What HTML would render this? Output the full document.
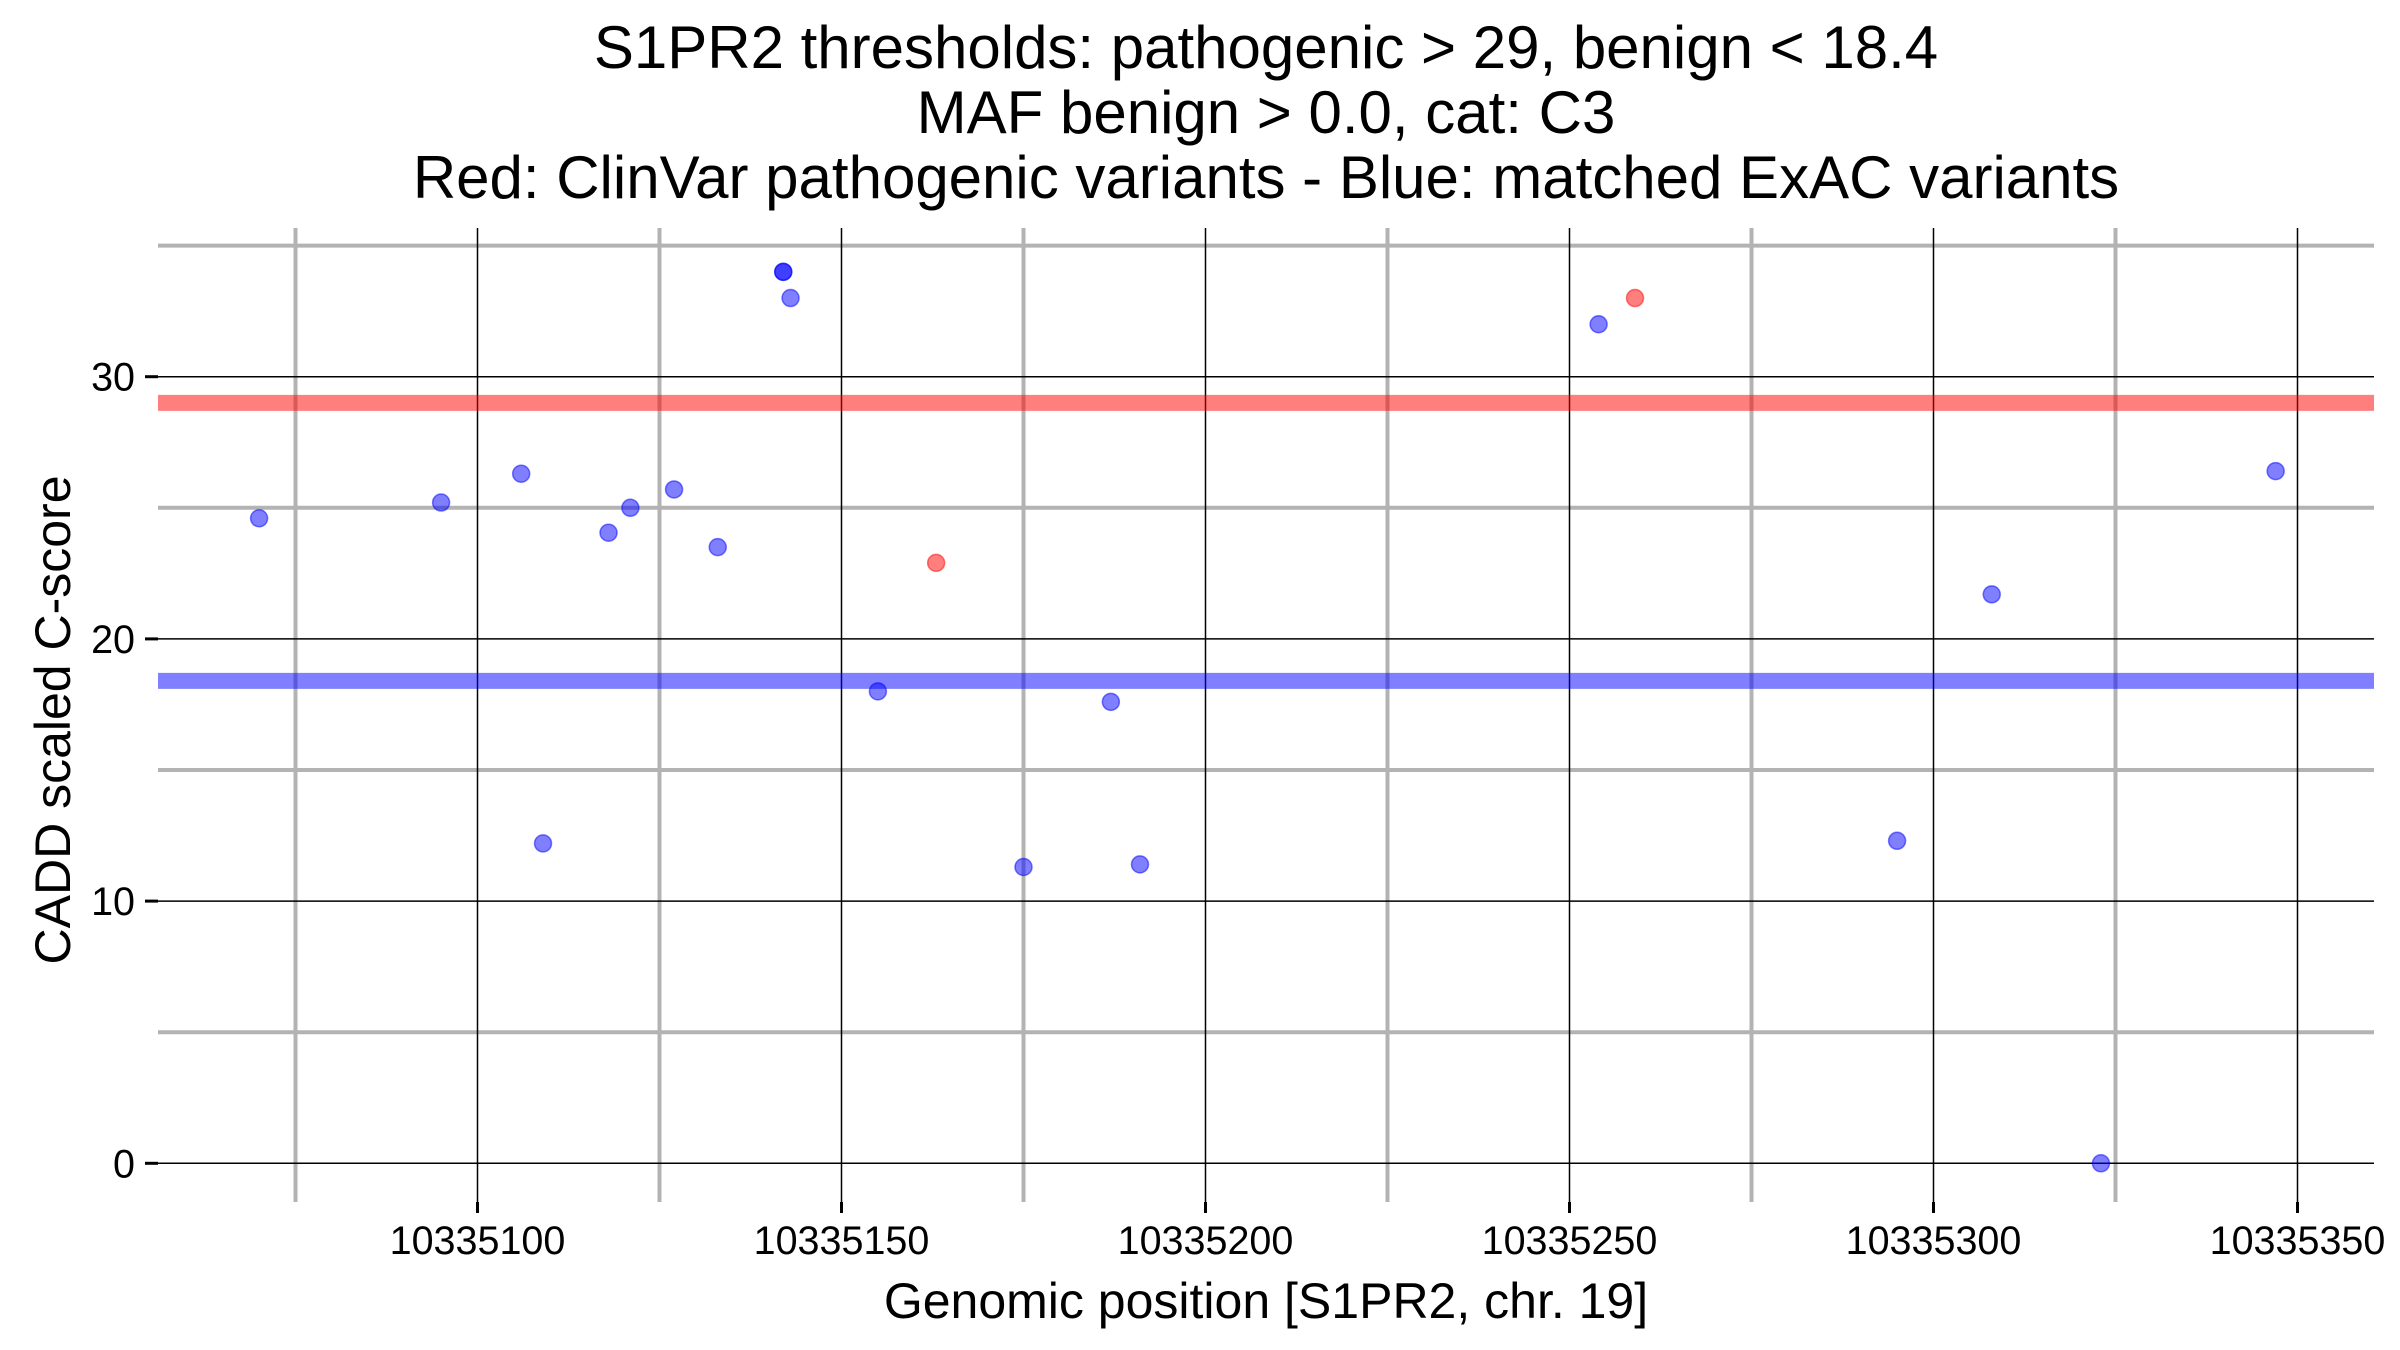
<!DOCTYPE html>
<html><head><meta charset="utf-8"><style>body{margin:0;background:#fff}svg{display:block}text{font-family:"Liberation Sans",Arial,sans-serif}</style></head>
<body>
<svg id="chart" width="2400" height="1350" viewBox="0 0 2400 1350" xmlns="http://www.w3.org/2000/svg">
<g text-anchor="middle" font-size="60" fill="#000">
<text x="1266" y="68">S1PR2 thresholds: pathogenic &gt; 29, benign &lt; 18.4</text>
<text x="1266" y="133">MAF benign &gt; 0.0, cat: C3</text>
<text x="1266" y="198">Red: ClinVar pathogenic variants - Blue: matched ExAC variants</text>
</g>
<g id="grid"></g>
<g id="thresholds"></g>
<g id="points"></g>
<g id="axes"></g>
<text x="1266" y="1318" text-anchor="middle" font-size="50">Genomic position [S1PR2, chr. 19]</text>
<text transform="translate(70,720) rotate(-90)" text-anchor="middle" font-size="50">CADD scaled C-score</text>
</svg>
<script>
const xMajorTicks = [10335100, 10335150, 10335200, 10335250, 10335300, 10335350];
const xMinorTicks = [10335075, 10335125, 10335175, 10335225, 10335275, 10335325];
const yMajorTicks = [0, 10, 20, 30];
const yMinorTicks = [5, 15, 25, 35];
const benignPos = [10335070,10335095,10335106,10335109,10335118,10335121,10335127,10335133,10335142,10335142,10335143,10335155,10335175,10335187,10335191,10335254,10335295,10335308,10335323,10335347];
const benignScore = [24.6,25.2,26.3,12.2,24.05,25.0,25.7,23.5,34,34,33,18.0,11.3,17.6,11.4,32,12.3,21.7,0,26.4];
const pathoPos = [10335163,10335259];
const pathoScore = [22.9,33];
const thresholdPatho = 29;
const thresholdBenign = 18.4;

const NS='http://www.w3.org/2000/svg';
const L=158,R=2374,T=228,B=1202;
function xs(v){return 477.5+(v-10335100)*7.28;}
function ys(v){return 1163.3-v*26.22;}
function mk(tag,attrs,parent){const e=document.createElementNS(NS,tag);for(const k in attrs)e.setAttribute(k,attrs[k]);parent.appendChild(e);return e;}
const grid=document.getElementById('grid'),axes=document.getElementById('axes'),th=document.getElementById('thresholds'),pts=document.getElementById('points');
yMinorTicks.forEach(v=>{const e=mk('line',{x1:L,x2:R,y1:ys(v),y2:ys(v),stroke:'#b3b3b3','stroke-width':4},grid);

});
xMinorTicks.forEach(v=>{const e=mk('line',{x1:xs(v),x2:xs(v),y1:T,y2:B,stroke:'#b3b3b3','stroke-width':4},grid);

});
yMajorTicks.forEach(v=>{const e=mk('line',{x1:L,x2:R,y1:ys(v),y2:ys(v),stroke:'#000','stroke-width':1.5},grid);


const t=mk('line',{x1:145,x2:158,y1:ys(v),y2:ys(v),stroke:'#000','stroke-width':3},axes);


const tx=mk('text',{x:135,y:ys(v)+14,'text-anchor':'end','font-size':39.5},axes);tx.textContent=v;

});
xMajorTicks.forEach(v=>{const e=mk('line',{x1:xs(v),x2:xs(v),y1:T,y2:B,stroke:'#000','stroke-width':1.5},grid);


const t=mk('line',{x1:xs(v),x2:xs(v),y1:1202,y2:1213,stroke:'#000','stroke-width':3},axes);


const tx=mk('text',{x:xs(v),y:1254,'text-anchor':'middle','font-size':39.5},axes);tx.textContent=v;

});
const rl=mk('line',{x1:L,x2:R,y1:ys(thresholdPatho),y2:ys(thresholdPatho),stroke:'#ff0000','stroke-opacity':0.5,'stroke-width':16},th);


const bl=mk('line',{x1:L,x2:R,y1:ys(thresholdBenign),y2:ys(thresholdBenign),stroke:'#0000ff','stroke-opacity':0.5,'stroke-width':16},th);


benignPos.forEach((p,i)=>{const c=mk('circle',{cx:xs(p),cy:ys(benignScore[i]),r:8.5,fill:'#0000ff','fill-opacity':0.5,stroke:'#0000ff','stroke-opacity':0.5,'stroke-width':1.5},pts);

});
pathoPos.forEach((p,i)=>{const c=mk('circle',{cx:xs(p),cy:ys(pathoScore[i]),r:8.5,fill:'#ff0000','fill-opacity':0.5,stroke:'#ff0000','stroke-opacity':0.5,'stroke-width':1.5},pts);

});
</script>
</body></html>
